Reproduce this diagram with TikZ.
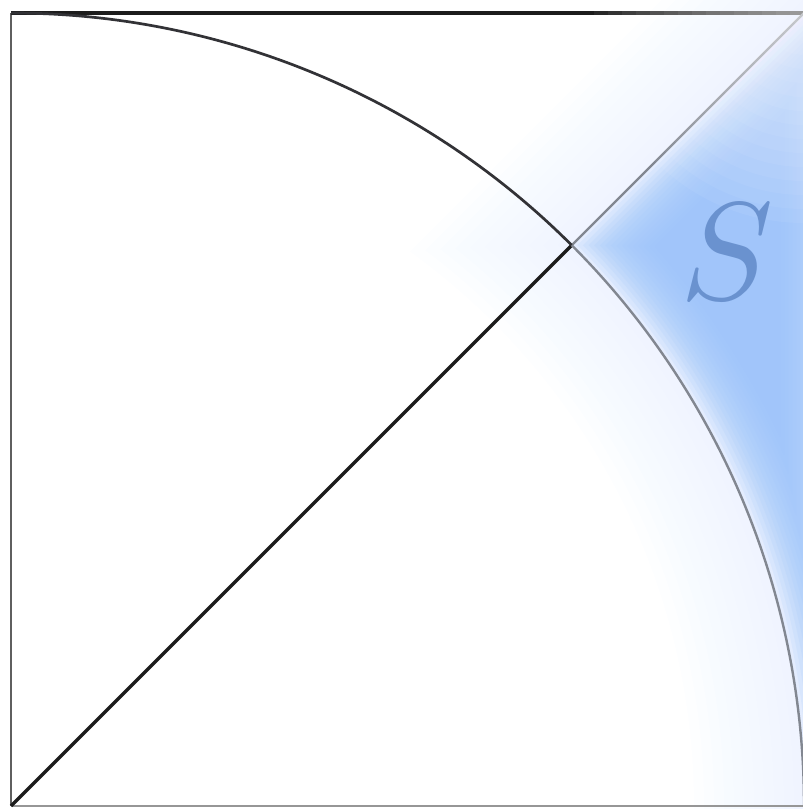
\documentclass[tikz,border=0pt]{standalone}
\definecolor{bluefill}{RGB}{158,197,250}
\definecolor{glowc}{RGB}{120,165,255}
\definecolor{scol}{RGB}{106,146,207}
\definecolor{darkline}{RGB}{28,28,28}
\definecolor{arcdark}{RGB}{50,50,54}
\definecolor{fadeline}{RGB}{130,135,145}
\definecolor{sideline}{RGB}{95,95,95}
\definecolor{bottomgray}{RGB}{150,150,150}
\newcommand{\sregion}[2]{%
  \begin{scope}
    \clip (-1500,-1500) rectangle ({840-#1},3000);
    \clip ({8+1.41421*#1-1000},-1000) -- ({8+1.41421*#1+2000},2000) -- (4000,2000) -- (4000,-1000) -- cycle;
    \fill[#2,even odd rule] (-1500,-1500) rectangle (3000,3000) (11,3) circle[radius={793+#1}];
  \end{scope}}
\tikzset{
  darkstroke/.style={draw=darkline, line width=3.2pt},
  arcstroke/.style={draw=arcdark, line width=2.7pt},
  fadestroke/.style={draw=fadeline, line width=2.4pt},
  sidestroke/.style={draw=sideline, line width=2.2pt},
  bottomstroke/.style={draw=bottomgray, line width=1.6pt},
}
\begin{document}
\begin{tikzpicture}[x=1pt,y=1pt]
  \useasboundingbox (0,0) rectangle (803,809);
  \fill[white] (0,0) rectangle (803,809);
  \coordinate (C) at (11,3);
  \coordinate (TL) at (11,796);
  \coordinate (TR) at (804,796);
  \coordinate (BR) at (804,3);
  \coordinate (P) at (571.74,563.74);
  % faint outer glow
  \foreach \dd in {-110,-100,...,-10} {\sregion{\dd}{glowc,opacity=0.006}}
  % blurred blue region S
  \foreach \dd in {0,4,...,60} {\sregion{\dd}{bluefill,opacity=0.15}}
  % square edges
  \draw[sidestroke] (C) -- (TL);
  \draw[bottomstroke] (C) -- (BR);
  \draw[darkstroke] (TL) -- (TR);
  % diagonal
  \draw[darkstroke] (C) -- (P);
  \draw[fadestroke] (P) -- (TR);
  % quarter circle
  \draw[arcstroke] (TL) arc[start angle=90, end angle=45, radius=793];
  \draw[fadestroke] (P) arc[start angle=45, end angle=0, radius=793];
  % white fade at the top-right corner
  \foreach \r in {14,28,...,210} {\fill[white,opacity=0.055] (TR) circle[radius=\r];}
  % label
  \node[text=scol, inner sep=0pt, scale=13.9] (lbl) at (727,557) {$S$};
\end{tikzpicture}
\end{document}
